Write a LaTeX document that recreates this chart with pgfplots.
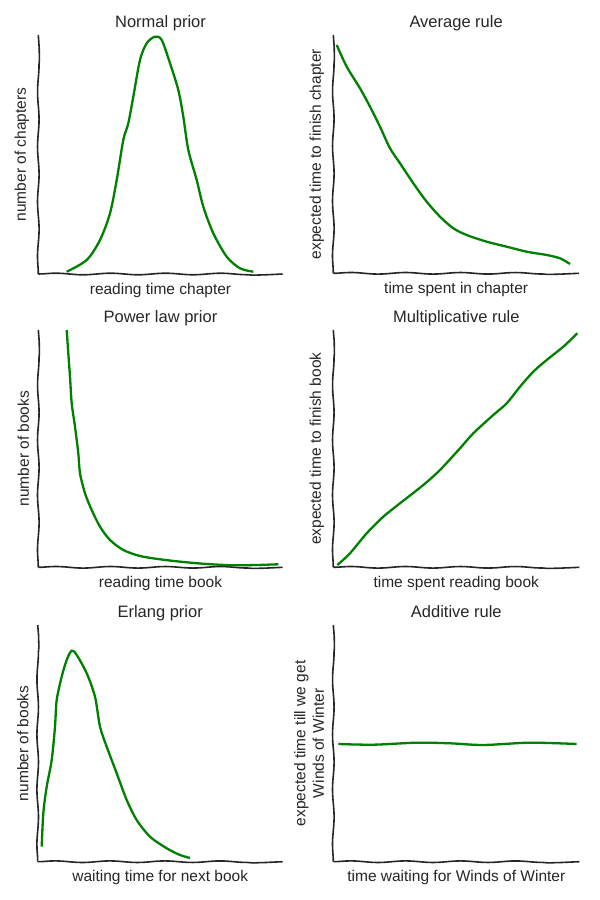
\documentclass[border=0pt]{standalone}
\usepackage{fontspec}
\setmainfont{Liberation Sans}
\usepackage{pgfplots}
\pgfplotsset{compat=1.18}
\usetikzlibrary{decorations.pathmorphing}
\definecolor{spine}{RGB}{38,38,38}
\definecolor{curve}{RGB}{0,128,0}
\pgfplotsset{
  xk/.style={
    scale only axis,
    anchor=south west,
    axis lines=left,
    clip=false,
    xtick=\empty, ytick=\empty,
    ymin=0,
    axis line style={-, spine, line width=1.6pt, decorate,
      decoration={snake, segment length=55pt, amplitude=0.8pt}},
    every inner x axis line/.append style={-},
    every outer x axis line/.append style={-},
    every inner y axis line/.append style={-},
    every outer y axis line/.append style={-},
    title style={at={(axis description cs:0.5,1.008)}, anchor=base, inner sep=0pt,
      font=\fontsize{16.5}{19}\selectfont, text=spine},
    xlabel style={at={(axis description cs:0.5,-0.036)}, anchor=north, inner sep=0pt,
      font=\fontsize{15.5}{18.5}\selectfont, text=spine},
    ylabel style={at={(axis description cs:-0.037,0.5)}, anchor=south, inner sep=0pt,
      font=\fontsize{15.5}{18.5}\selectfont, text=spine, align=center},
    every axis plot post/.append style={curve, line width=2.3pt, smooth, tension=0.5, mark=none},
  }
}
\begin{document}
\begin{tikzpicture}
\useasboundingbox (0,0) rectangle (600pt,900pt);
% Normal prior
\begin{axis}[xk, at={(38.3pt,626pt)}, width=244.4pt, height=239pt,
  xmin=38.3, xmax=282.7, ymax=239,
  title={Normal prior}, xlabel={reading time chapter}, ylabel={number of chapters}]
\addplot coordinates {(66.7,2.3) (86.7,14) (100,34) (110,60.7) (116.7,94) (123.3,134)
 (128.3,150.7) (133.3,177.3) (140,214) (146.7,230.7) (155,237.3) (161.7,234) (170,210.7)
 (178.3,184) (183.3,157.3) (188.3,124) (196.7,94) (203.3,67.3) (213.3,40.7) (226.7,17.3)
 (240,5.7) (253.3,2.3)};
\end{axis}
% Average rule
\begin{axis}[xk, at={(333.3pt,626.7pt)}, width=245.7pt, height=238.3pt,
  xmin=333.3, xmax=579, ymax=238.3,
  title={Average rule}, xlabel={time spent in chapter}, ylabel={expected time to finish chapter}]
\addplot coordinates {(336.7,228.3) (346.7,206.6) (360,185) (370,166.6) (380,146.6) (390,125)
 (400,110) (413.3,90) (426.7,71.6) (440,56.6) (453.3,45) (466.7,38.3) (486.7,31.6)
 (506.7,26.6) (526.7,21.6) (546.7,18.3) (560,15) (570,9.3)};
\end{axis}
% Power law prior
\begin{axis}[xk, at={(38.3pt,332.7pt)}, width=244.4pt, height=237.3pt,
  xmin=38.3, xmax=282.7, ymax=237.3,
  title={Power law prior}, xlabel={reading time book}, ylabel={number of books}]
\addplot coordinates {(66.7,237.3) (68.3,214) (70,190.6) (71.7,164) (75,140.6) (78.3,114)
 (80,94) (85,74) (91.7,57.3) (100,40.6) (110,27.3) (123.3,17.3) (140,11.3) (160,8)
 (183.3,5.3) (206.7,3.3) (233.3,2) (256.7,2.3) (278.3,3)};
\end{axis}
% Multiplicative rule
\begin{axis}[xk, at={(333.3pt,332.7pt)}, width=246pt, height=237.3pt,
  xmin=333.3, xmax=579.3, ymax=237.3,
  title={Multiplicative rule}, xlabel={time spent reading book}, ylabel={expected time to finish book}]
\addplot coordinates {(337.3,2.3) (350,14) (366.7,34) (383.3,50.6) (400,64) (423.3,82.3)
 (440,97.3) (460,119) (473.3,134) (493.3,152.3) (506.7,164) (520,180.6) (533.3,195.6)
 (546.7,207.3) (563.3,220.6) (577.3,234)};
\end{axis}
% Erlang prior
\begin{axis}[xk, at={(37.7pt,38.3pt)}, width=245pt, height=236.7pt,
  xmin=37.7, xmax=282.7, ymax=236.7,
  title={Erlang prior}, xlabel={waiting time for next book}, ylabel={number of books}]
\addplot coordinates {(41.7,15) (43.3,48.4) (46.7,75) (51.7,101.7) (55,135) (56.7,161.7)
 (61.7,185) (66.7,201.7) (71.7,211) (76.7,206.7) (86.7,188.4) (95,165) (100,135)
 (106.7,115) (116.7,88.4) (126.7,61.7) (136.7,41.7) (150,25) (166.7,13.4) (180,6.7) (190,3.7)};
\end{axis}
% Additive rule
\begin{axis}[xk, at={(333.3pt,38.3pt)}, width=246pt, height=236.7pt,
  xmin=333.3, xmax=579.3, ymax=236.7,
  title={Additive rule}, xlabel={time waiting for Winds of Winter},
  ylabel={expected time till we get\\Winds of Winter}]
\addplot coordinates {(338.3,117.7) (373.3,117) (416.7,119) (450,118.4) (483.3,116.7)
 (530,119) (576.7,117.7)};
\end{axis}
\end{tikzpicture}
\end{document}
